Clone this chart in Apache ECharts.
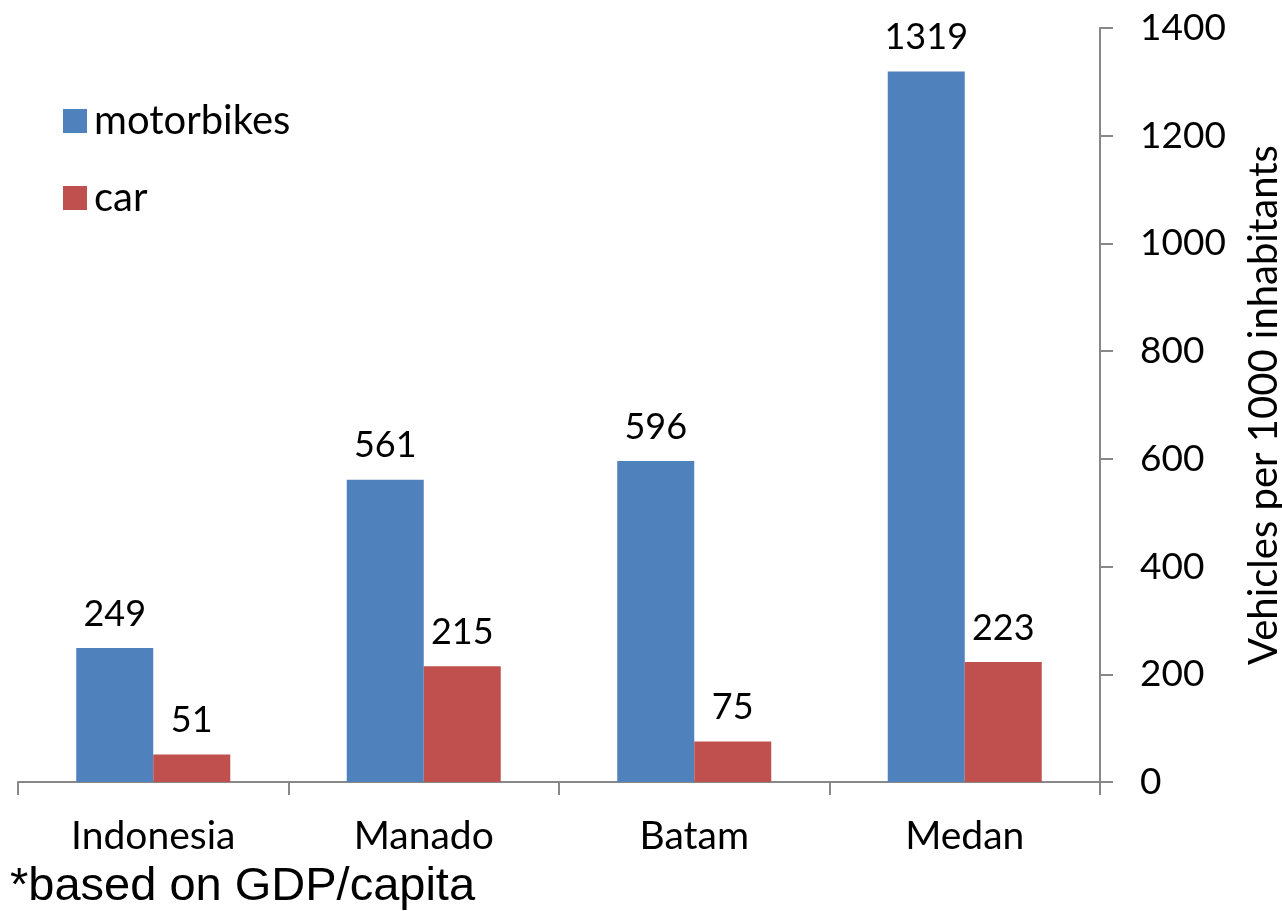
<!DOCTYPE html>
<html>
<head>
<meta charset="utf-8">
<script src="https://cdn.jsdelivr.net/npm/echarts@6/dist/echarts.min.js"></script>
<style>
html,body{margin:0;padding:0;background:#fff;overflow:hidden;}
#chart{width:1282px;height:911px;}
</style>
</head>
<body>
<div id="chart"></div>
<script>
const categories = ['Indonesia', 'Manado', 'Batam', 'Medan'];
const motorbikes = [249, 561, 596, 1319];
const car = [51, 215, 75, 223];
const yTicks = [0, 200, 400, 600, 800, 1000, 1200, 1400];

const FONT = 'Lato';
const chart = echarts.init(document.getElementById('chart'));
chart.setOption({
  animation: false,
  backgroundColor: '#ffffff',
  grid: { left: 18, right: 182, top: 28, bottom: 129, containLabel: false, outerBoundsMode: 'none' },
  legend: {
    left: 58, top: 96, orient: 'vertical', itemGap: 37,
    itemWidth: 24, itemHeight: 24, icon: 'rect',
    textStyle: { fontFamily: FONT, fontSize: 40, lineHeight: 40, color: '#000', padding: [0, 0, 0, 2] },
    data: ['motorbikes', 'car']
  },
  xAxis: {
    type: 'category', data: categories,
    axisLine: { lineStyle: { color: '#888', width: 2 } },
    axisTick: { show: true, length: 13, lineStyle: { color: '#888', width: 2 } },
    axisLabel: { fontFamily: FONT, fontSize: 39, color: '#000', margin: 35 }
  },
  yAxis: {
    type: 'value', position: 'right', min: 0, max: 1400, interval: 200,
    name: 'Vehicles per 1000 inhabitants', nameLocation: 'middle', nameGap: 144, nameRotate: 90,
    nameTextStyle: { fontFamily: FONT, fontSize: 40, color: '#000' },
    axisLine: { show: true, lineStyle: { color: '#888', width: 2 } },
    axisTick: { show: true, inside: false, length: 13, lineStyle: { color: '#888', width: 2 } },
    splitLine: { show: false },
    axisLabel: { fontFamily: FONT, fontSize: 37, color: '#000', margin: 40,
      formatter: v => yTicks.includes(v) ? String(v) : '' }
  },
  series: [
    { name: 'motorbikes', type: 'bar', data: motorbikes, barWidth: 77, barGap: '0%',
      itemStyle: { color: '#4F81BD' },
      label: { show: true, position: 'top', distance: 16, fontFamily: FONT, fontSize: 36, color: '#000' } },
    { name: 'car', type: 'bar', data: car, barWidth: 77,
      itemStyle: { color: '#C0504D' },
      label: { show: true, position: 'top', distance: 16, fontFamily: FONT, fontSize: 36, color: '#000' } }
  ],
  graphic: [{
    type: 'text', left: 10, top: 864,
    style: { text: '*based on GDP/capita', font: '47px "Liberation Sans", Arial, sans-serif', fill: '#000' }
  }]
});
</script>
</body>
</html>
